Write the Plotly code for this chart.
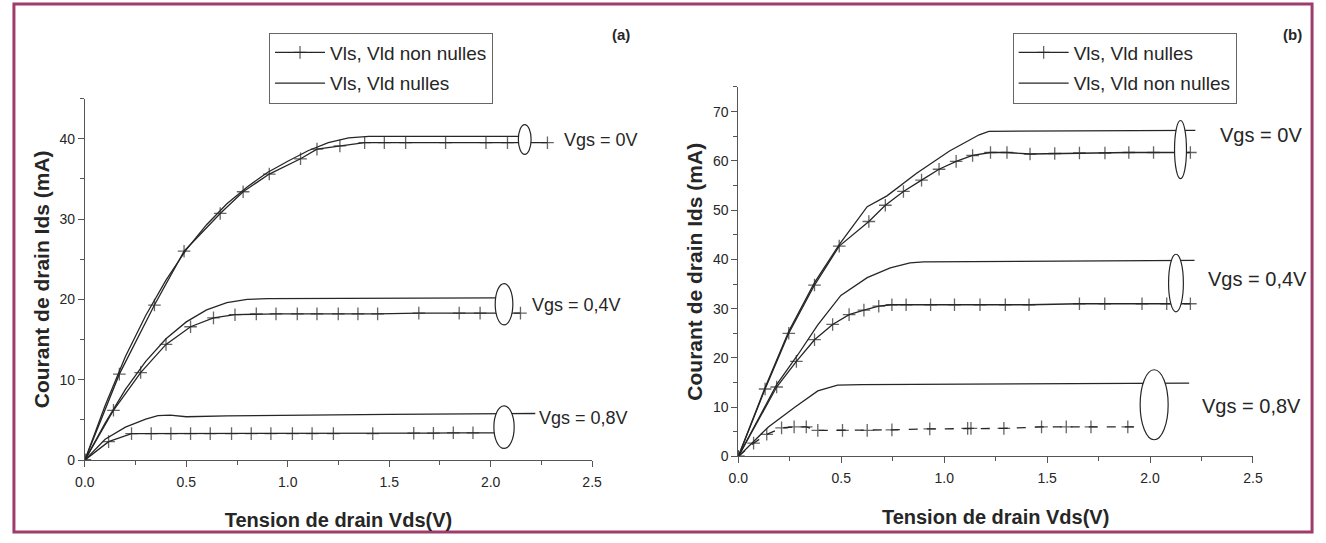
import plotly.graph_objects as go

# ---------------- Panel (a) data ----------------
a_v0_cross_x = [0, 0.17, 0.343, 0.489, 0.667, 0.78, 0.909, 1.063, 1.144, 1.257, 1.379, 1.476, 1.581, 1.778, 1.977, 2.083, 2.28]
a_v0_cross_y = [0, 10.7, 19.3, 26.0, 30.7, 33.4, 35.6, 37.5, 38.7, 39.1, 39.5, 39.5, 39.5, 39.5, 39.5, 39.5, 39.5]
a_v0_solid_x = [0, 0.1, 0.2, 0.3, 0.4, 0.5, 0.6, 0.7, 0.8, 0.9, 1.0, 1.1, 1.2, 1.3, 1.4, 2.14]
a_v0_solid_y = [0, 6.8, 12.9, 18.0, 22.4, 26.2, 29.3, 31.9, 34.0, 35.8, 37.2, 38.5, 39.5, 40.1, 40.3, 40.3]

a_v04_cross_x = [0, 0.141, 0.275, 0.40, 0.521, 0.634, 0.74, 0.845, 0.942, 1.047, 1.144, 1.249, 1.346, 1.443, 1.646, 1.845, 1.948, 2.147]
a_v04_cross_y = [0, 6.2, 10.9, 14.4, 16.6, 17.7, 18.1, 18.2, 18.2, 18.2, 18.2, 18.2, 18.2, 18.2, 18.3, 18.3, 18.3, 18.3]
a_v04_solid_x = [0, 0.1, 0.2, 0.3, 0.4, 0.5, 0.6, 0.7, 0.8, 0.9, 2.04]
a_v04_solid_y = [0, 4.6, 8.8, 12.3, 15.1, 17.2, 18.7, 19.6, 20.0, 20.1, 20.2]

a_v08_cross_x = [0, 0.117, 0.23, 0.327, 0.424, 0.521, 0.618, 0.723, 0.82, 0.917, 1.023, 1.12, 1.225, 1.419, 1.621, 1.718, 1.816, 1.913, 2.02]
a_v08_cross_y = [0, 2.3, 3.3, 3.3, 3.3, 3.3, 3.3, 3.3, 3.3, 3.3, 3.3, 3.3, 3.3, 3.3, 3.35, 3.35, 3.4, 3.4, 3.4]
a_v08_solid_x = [0, 0.1, 0.2, 0.3, 0.36, 0.42, 0.5, 0.7, 1.5, 2.22]
a_v08_solid_y = [0, 2.6, 4.1, 5.1, 5.55, 5.6, 5.4, 5.5, 5.7, 5.8]

# ---------------- Panel (b) data ----------------
b_v0_cross_x = [0, 0.130, 0.245, 0.370, 0.490, 0.634, 0.714, 0.802, 0.890, 0.975, 1.058, 1.138, 1.225, 1.305, 1.417, 1.537, 1.657, 1.781, 1.897, 2.017, 2.196]
b_v0_cross_y = [0, 13.7, 25.0, 34.8, 42.7, 47.7, 51.0, 53.8, 56.1, 58.3, 59.9, 61.1, 61.7, 61.7, 61.4, 61.5, 61.6, 61.6, 61.7, 61.7, 61.7]
b_v0_solid_x = [0, 0.13, 0.245, 0.37, 0.49, 0.626, 0.722, 0.866, 1.026, 1.17, 1.217, 2.22]
b_v0_solid_y = [0, 14.0, 25.4, 35.3, 43.0, 50.7, 52.9, 57.5, 62.0, 65.3, 66.0, 66.2]

b_v04_cross_x = [0, 0.186, 0.282, 0.370, 0.458, 0.538, 0.610, 0.682, 0.746, 0.815, 0.934, 1.05, 1.174, 1.297, 1.412, 1.657, 1.78, 1.961, 2.081, 2.196]
b_v04_cross_y = [0, 14.1, 19.3, 23.7, 26.8, 28.8, 29.7, 30.5, 30.8, 30.8, 30.8, 30.8, 30.8, 30.8, 30.8, 31.0, 31.0, 31.0, 31.0, 31.0]
b_v04_solid_x = [0, 0.186, 0.29, 0.386, 0.498, 0.626, 0.738, 0.834, 0.9, 2.216]
b_v04_solid_y = [0, 14.6, 20.7, 26.7, 32.7, 36.3, 38.3, 39.3, 39.5, 39.8]

b_v08_cross_x = [0, 0.074, 0.138, 0.210, 0.271, 0.330, 0.386, 0.506, 0.626, 0.746, 0.93, 1.114, 1.13, 1.29, 1.473, 1.593, 1.713, 1.892, 1.96]
b_v08_cross_y = [0, 2.7, 4.5, 5.8, 6.0, 6.0, 5.3, 5.3, 5.3, 5.4, 5.6, 5.7, 5.7, 5.7, 6.0, 6.0, 6.0, 6.0, 6.0]
b_v08_solid_x = [0, 0.146, 0.274, 0.386, 0.482, 0.6, 2.19]
b_v08_solid_y = [0, 6.0, 10.0, 13.3, 14.5, 14.6, 14.9]

# legend texts / labels
a_legend = ["Vls, Vld non nulles", "Vls, Vld nulles"]
b_legend = ["Vls, Vld nulles", "Vls, Vld non nulles"]
vgs_labels = ["Vgs = 0V", "Vgs = 0,4V", "Vgs = 0,8V"]

INK = "#262626"
FONT = "Liberation Sans, Arial, sans-serif"

fig = go.Figure()


def cross_trace(x, y, xa, ya, name, legend, show, group, dash="solid", last_plain=False):
    sizes = [9] * len(x)
    if last_plain:
        sizes[-1] = 0
    return go.Scatter(
        x=x, y=y, xaxis=xa, yaxis=ya, mode="lines+markers", name=name,
        legend=legend, showlegend=show, legendgroup=group,
        line=dict(color=INK, width=1.3, dash=dash),
        marker=dict(symbol="cross-thin", size=sizes, color=INK, line=dict(width=1.3, color=INK)),
        hoverinfo="skip")


def solid_trace(x, y, xa, ya, name, legend, show, group):
    return go.Scatter(
        x=x, y=y, xaxis=xa, yaxis=ya, mode="lines", name=name,
        legend=legend, showlegend=show, legendgroup=group,
        line=dict(color=INK, width=1.3), hoverinfo="skip")


# panel (a)
fig.add_trace(cross_trace(a_v0_cross_x, a_v0_cross_y, "x", "y", a_legend[0], "legend", True, "a1"))
fig.add_trace(solid_trace(a_v0_solid_x, a_v0_solid_y, "x", "y", a_legend[1], "legend", True, "a2"))
fig.add_trace(cross_trace(a_v04_cross_x, a_v04_cross_y, "x", "y", a_legend[0], "legend", False, "a1"))
fig.add_trace(solid_trace(a_v04_solid_x, a_v04_solid_y, "x", "y", a_legend[1], "legend", False, "a2"))
fig.add_trace(cross_trace(a_v08_cross_x, a_v08_cross_y, "x", "y", a_legend[0], "legend", False, "a1", last_plain=True))
fig.add_trace(solid_trace(a_v08_solid_x, a_v08_solid_y, "x", "y", a_legend[1], "legend", False, "a2"))

# panel (b)
fig.add_trace(cross_trace(b_v0_cross_x, b_v0_cross_y, "x2", "y2", b_legend[0], "legend2", True, "b1"))
fig.add_trace(solid_trace(b_v0_solid_x, b_v0_solid_y, "x2", "y2", b_legend[1], "legend2", True, "b2"))
fig.add_trace(cross_trace(b_v04_cross_x, b_v04_cross_y, "x2", "y2", b_legend[0], "legend2", False, "b1"))
fig.add_trace(solid_trace(b_v04_solid_x, b_v04_solid_y, "x2", "y2", b_legend[1], "legend2", False, "b2"))
fig.add_trace(cross_trace(b_v08_cross_x, b_v08_cross_y, "x2", "y2", b_legend[0], "legend2", False, "b1", dash="dash", last_plain=True))
fig.add_trace(solid_trace(b_v08_solid_x, b_v08_solid_y, "x2", "y2", b_legend[1], "legend2", False, "b2"))

W, H = 1326, 543


def xaxis_cfg(left, right, anchor):
    return dict(
        domain=[left / W, right / W], range=[0, 2.5], anchor=anchor,
        showline=True, linecolor="#555", linewidth=1, mirror=False,
        ticks="outside", ticklen=6, tickwidth=1, tickcolor="#555",
        tick0=0, dtick=0.5, tickformat=".1f", ticklabelstandoff=3,
        minor=dict(dtick=0.25, ticks="outside", ticklen=4, tickcolor="#555", showgrid=False),
        showgrid=False, zeroline=False,
        tickfont=dict(size=14, color=INK, family=FONT),
        title=dict(text="<b>Tension de drain Vds(V)</b>", font=dict(size=20, color=INK, family=FONT), standoff=24),
    )


def yaxis_cfg(bottom_px, top_px, ymax, anchor):
    return dict(
        domain=[(H - bottom_px) / H, (H - top_px) / H], range=[0, ymax], anchor=anchor,
        showline=True, linecolor="#555", linewidth=1,
        ticks="outside", ticklen=6, tickwidth=1, tickcolor="#555",
        tick0=0, dtick=10,
        minor=dict(dtick=5, ticks="outside", ticklen=4, tickcolor="#555", showgrid=False),
        showgrid=False, zeroline=False,
        tickfont=dict(size=14, color=INK, family=FONT),
        title=dict(text="<b>Courant de drain Ids (mA)</b>", font=dict(size=21, color=INK, family=FONT), standoff=4),
    )


legend_common = dict(
    xanchor="left", yanchor="top", bordercolor="#666", borderwidth=1, bgcolor="white",
    font=dict(size=19, color=INK, family=FONT), itemwidth=50, traceorder="grouped", tracegroupgap=3,
)

fig.update_layout(
    width=W, height=H, margin=dict(l=0, r=0, t=0, b=0),
    paper_bgcolor="white", plot_bgcolor="white",
    font=dict(family=FONT, color=INK),
    xaxis=xaxis_cfg(76, 591, "y"),
    yaxis=yaxis_cfg(467, 100, 45, "x"),
    xaxis2=xaxis_cfg(739.5, 1262, "y2"),
    yaxis2=yaxis_cfg(463.3, 88.3, 75, "x2"),
    legend=dict(x=263 / W, y=1 - 33 / H, **legend_common),
    legend2=dict(x=1018 / W, y=1 - 33 / H, **legend_common),
)

# group ellipses (center x, center y, width, height) in data units
a_ellipses = [(2.168, 39.9, 0.063, 3.7), (2.066, 19.4, 0.087, 5.15), (2.066, 4.1, 0.10, 5.3)]
b_ellipses = [(2.148, 62.3, 0.058, 11.8), (2.126, 35.2, 0.072, 11.7), (2.02, 10.5, 0.136, 14.2)]
a_label_pos = [(2.35, 39.8), (2.194, 19.3), (2.228, 5.2)]
b_label_pos = [(2.33, 65.3), (2.27, 36.1), (2.242, 10.3)]

for (ell, lab, xr, yr, fs) in [(a_ellipses, a_label_pos, "x", "y", 18), (b_ellipses, b_label_pos, "x2", "y2", 20)]:
    for (cx, cy, w, h), (lx, ly), txt in zip(ell, lab, vgs_labels):
        fig.add_shape(type="circle", xref=xr, yref=yr, x0=cx - w / 2, x1=cx + w / 2,
                      y0=cy - h / 2, y1=cy + h / 2, line=dict(color=INK, width=1.2),
                      fillcolor="white", layer="above")
        fig.add_annotation(x=lx, y=ly, xref=xr, yref=yr, text=txt, showarrow=False,
                           xanchor="left", yanchor="middle",
                           font=dict(size=fs, color=INK, family=FONT))

# panel tags
fig.add_annotation(x=620 / W, y=1 - 35 / H, xref="paper", yref="paper", text="<b>(a)</b>",
                   showarrow=False, xanchor="center", yanchor="middle", font=dict(size=15, color=INK))
fig.add_annotation(x=1302 / W, y=1 - 35 / H, xref="paper", yref="paper", text="<b>(b)</b>",
                   showarrow=False, xanchor="center", yanchor="middle", font=dict(size=15, color=INK))

# maroon frame
fig.add_shape(type="rect", xref="paper", yref="paper", x0=4 / W, x1=1322 / W, y0=3 / H, y1=1 - 4 / H,
              line=dict(color="#9e3d6b", width=3), fillcolor="rgba(0,0,0,0)", layer="above")

fig.write_html("out.html")
